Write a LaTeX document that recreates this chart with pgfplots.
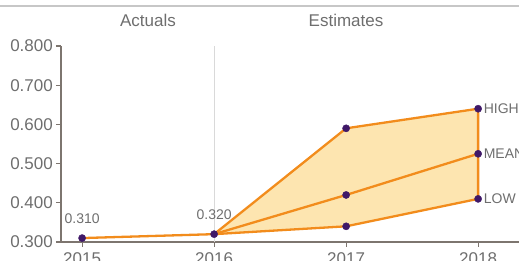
\documentclass[border=0pt]{standalone}
\usepackage{pgfplots}
\pgfplotsset{compat=1.18}
\usepackage{fontspec}
\setmainfont{Liberation Sans}
\definecolor{txt}{HTML}{6E6E6E}
\definecolor{axc}{HTML}{7D756F}
\definecolor{orng}{HTML}{F28C1C}
\definecolor{fillc}{HTML}{FDE5B0}
\definecolor{mk}{HTML}{3F1868}
\begin{document}
\begin{tikzpicture}[x=1pt,y=1pt]
\useasboundingbox (0,0) rectangle (519,261);
\clip (0,0) rectangle (519,261);
\draw[line width=1.5pt, color=black!22] (0,255) -- (519,255);
\node[font=\fontsize{17}{20}\selectfont, text=txt] at (148,241) {Actuals};
\node[font=\fontsize{17}{20}\selectfont, text=txt] at (346,241) {Estimates};
\begin{axis}[
  at={(61pt,19pt)}, anchor=south west,
  x=132pt, y=392pt,
  xmin=-0.16, xmax=3.6, ymin=0.3, ymax=0.8,
  axis x line*=bottom, axis y line*=left,
  axis line style={axc, line width=1.6pt, -},
  xtick={0,1,2,3}, xticklabels={2015,2016,2017,2018},
  ytick={0.3,0.4,0.5,0.6,0.7,0.8},
  yticklabel style={inner sep=3pt, /pgf/number format/fixed, /pgf/number format/fixed zerofill, /pgf/number format/precision=3},
  xticklabel style={inner sep=1.5pt, yshift=-3.5pt},
  tick style={axc, line width=1.2pt}, major tick length=5pt, tick align=outside,
  ticklabel style={font=\fontsize{17}{20}\selectfont, text=txt},
  /pgf/number format/assume math mode=true,
  clip=false,
]
\draw[black!15, line width=1pt] (axis cs:1,0.3) -- (axis cs:1,0.8);
\addplot[fill=fillc, draw=orng, line width=2.3pt, line join=round] coordinates {(1,0.32) (2,0.59) (3,0.64) (3,0.41) (2,0.34) (1,0.32)} -- cycle;
\addplot[orng, line width=2.3pt] coordinates {(1,0.32) (2,0.42) (3,0.525)};
\addplot[orng, line width=2.3pt,
  nodes near coords={\pgfmathprintnumber[fixed,fixed zerofill,precision=3]{\pgfplotspointmeta}},
  nodes near coords style={anchor=center, yshift=19pt, font=\fontsize{14}{16}\selectfont, text=txt}]
  coordinates {(0,0.31) (1,0.32)};
\addplot[only marks, mark=*, mark size=3.6pt, mk] coordinates {(0,0.31) (1,0.32) (2,0.59) (2,0.42) (2,0.34) (3,0.64) (3,0.525) (3,0.41)};
\node[anchor=west, font=\fontsize{14}{16}\selectfont, text=txt, inner sep=1pt, xshift=4.5pt] at (axis cs:3,0.64) {HIGH};
\node[anchor=west, font=\fontsize{14}{16}\selectfont, text=txt, inner sep=1pt, xshift=4.5pt] at (axis cs:3,0.525) {MEAN};
\node[anchor=west, font=\fontsize{14}{16}\selectfont, text=txt, inner sep=1pt, xshift=4.5pt] at (axis cs:3,0.41) {LOW};
\end{axis}
\end{tikzpicture}
\end{document}
